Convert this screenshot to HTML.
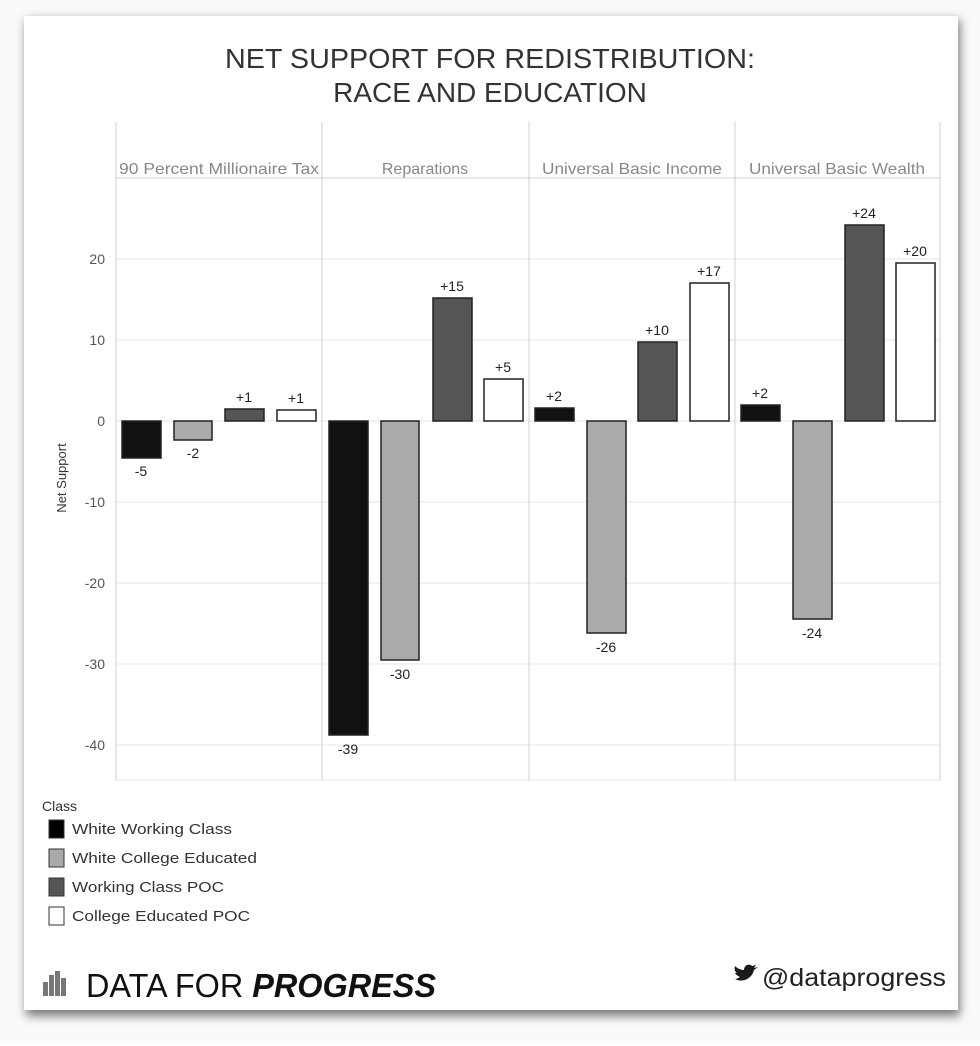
<!DOCTYPE html>
<html><head><meta charset="utf-8"><style>
body{margin:0;background:#fff;}
</style></head><body>
<svg width="980" height="1041" xmlns="http://www.w3.org/2000/svg" font-family="Liberation Sans, sans-serif">
<defs><filter id="sh" x="-5%" y="-5%" width="110%" height="110%"><feGaussianBlur stdDeviation="5"/></filter></defs>
<rect x="0" y="0" width="980" height="1041" fill="#fafafa"/>
<rect x="26" y="20" width="934" height="996" fill="#777" filter="url(#sh)"/>
<rect x="24" y="16" width="934" height="994" fill="#fff"/>
<text x="490" y="68" text-anchor="middle" font-size="28" fill="#333" textLength="530" lengthAdjust="spacingAndGlyphs">NET SUPPORT FOR REDISTRIBUTION:</text>
<text x="490" y="102" text-anchor="middle" font-size="28" fill="#333">RACE AND EDUCATION</text>
<g stroke="#e6e6e6" stroke-width="1">
<line x1="116" y1="259" x2="940" y2="259"/><line x1="116" y1="340" x2="940" y2="340"/>
<line x1="116" y1="421" x2="940" y2="421"/><line x1="116" y1="502" x2="940" y2="502"/>
<line x1="116" y1="583" x2="940" y2="583"/><line x1="116" y1="664" x2="940" y2="664"/>
<line x1="116" y1="745" x2="940" y2="745"/><line x1="116" y1="780" x2="940" y2="780"/>
</g>
<g stroke="#d0d0d0" stroke-width="1">
<line x1="116" y1="122" x2="116" y2="780"/><line x1="322" y1="122" x2="322" y2="780"/>
<line x1="529" y1="122" x2="529" y2="780"/><line x1="735" y1="122" x2="735" y2="780"/>
<line x1="940" y1="122" x2="940" y2="780"/>
<line x1="116" y1="178" x2="940" y2="178"/>
</g>
<g font-size="16" fill="#888" text-anchor="middle">
<text x="219" y="174" textLength="200" lengthAdjust="spacingAndGlyphs">90 Percent Millionaire Tax</text><text x="425" y="174">Reparations</text>
<text x="632" y="174" textLength="180" lengthAdjust="spacingAndGlyphs">Universal Basic Income</text><text x="837" y="174" textLength="176" lengthAdjust="spacingAndGlyphs">Universal Basic Wealth</text>
</g>
<g font-size="14" fill="#555" text-anchor="end">
<text x="105" y="264">20</text><text x="105" y="345">10</text><text x="105" y="426">0</text>
<text x="105" y="507">-10</text><text x="105" y="588">-20</text><text x="105" y="669">-30</text><text x="105" y="750">-40</text>
</g>
<text transform="translate(66,478) rotate(-90)" text-anchor="middle" font-size="13" fill="#333">Net Support</text>
<g stroke="#222" stroke-width="1.5">
<rect x="122" y="421" width="39" height="37" fill="#111"/>
<rect x="174" y="421" width="38" height="19" fill="#aaa"/>
<rect x="225" y="409" width="39" height="12" fill="#555"/>
<rect x="277" y="410" width="39" height="11" fill="#fff"/>
<rect x="329" y="421" width="39" height="314" fill="#111"/>
<rect x="381" y="421" width="38" height="239" fill="#aaa"/>
<rect x="433" y="298" width="39" height="123" fill="#555"/>
<rect x="484" y="379" width="39" height="42" fill="#fff"/>
<rect x="535" y="408" width="39" height="13" fill="#111"/>
<rect x="587" y="421" width="39" height="212" fill="#aaa"/>
<rect x="638" y="342" width="39" height="79" fill="#555"/>
<rect x="690" y="283" width="39" height="138" fill="#fff"/>
<rect x="741" y="405" width="39" height="16" fill="#111"/>
<rect x="793" y="421" width="39" height="198" fill="#aaa"/>
<rect x="845" y="225" width="39" height="196" fill="#555"/>
<rect x="896" y="263" width="39" height="158" fill="#fff"/>
</g>
<g font-size="14" fill="#222" text-anchor="middle">
<text x="141" y="476">-5</text><text x="193" y="458">-2</text><text x="244" y="402">+1</text><text x="296" y="403">+1</text>
<text x="348" y="754">-39</text><text x="400" y="679">-30</text><text x="452" y="291">+15</text><text x="503" y="372">+5</text>
<text x="554" y="401">+2</text><text x="606" y="652">-26</text><text x="657" y="335">+10</text><text x="709" y="276">+17</text>
<text x="760" y="398">+2</text><text x="812" y="638">-24</text><text x="864" y="218">+24</text><text x="915" y="256">+20</text>
</g>
<text x="42" y="811" font-size="14" fill="#333">Class</text>
<g stroke="#333" stroke-width="1">
<rect x="49" y="820" width="15" height="18" fill="#000"/>
<rect x="49" y="849" width="15" height="18" fill="#aaa"/>
<rect x="49" y="878" width="15" height="18" fill="#555"/>
<rect x="49" y="907" width="15" height="18" fill="#fff"/>
</g>
<g font-size="15" fill="#333">
<text x="72" y="834" textLength="160" lengthAdjust="spacingAndGlyphs">White Working Class</text><text x="72" y="863" textLength="185" lengthAdjust="spacingAndGlyphs">White College Educated</text>
<text x="72" y="892" textLength="152" lengthAdjust="spacingAndGlyphs">Working Class POC</text><text x="72" y="921" textLength="178" lengthAdjust="spacingAndGlyphs">College Educated POC</text>
</g>
<g fill="#777"><rect x="43" y="982" width="5" height="14"/><rect x="49" y="975" width="5" height="21"/><rect x="55" y="971" width="5" height="25"/><rect x="61" y="978" width="5" height="18"/></g>
<text x="86" y="997" font-size="33" fill="#111" textLength="350" lengthAdjust="spacingAndGlyphs">DATA FOR <tspan font-weight="bold" font-style="italic">PROGRESS</tspan></text>
<path d="M735,979 C742,983 752,979 754,970 L758,967 L754,968 L756,965 L752,966 C749,963 744,965 744,970 C740,970 737,968 735,966 C734,969 735,972 737,973 L735,973 C736,975 738,976 740,977 C738,978 737,979 735,979 Z" fill="#1a1a1a"/>
<text x="946" y="986" text-anchor="end" font-size="25" fill="#222" textLength="184" lengthAdjust="spacingAndGlyphs">@dataprogress</text>
</svg>
</body></html>
